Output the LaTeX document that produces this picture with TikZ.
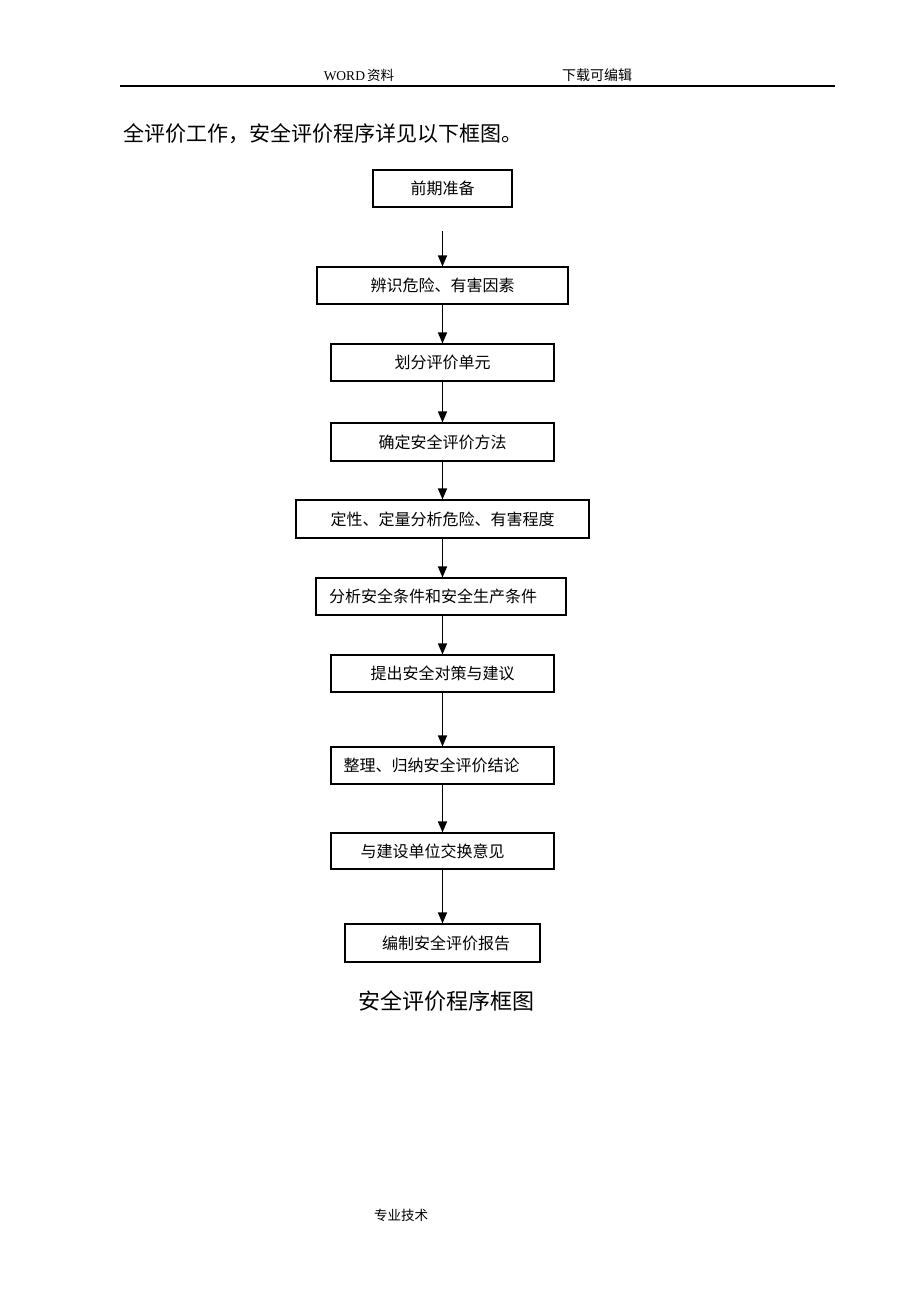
\documentclass[tikz,border=0pt]{standalone}
\usepackage{fontspec}
\setmainfont{Liberation Serif}
\newfontfamily\cjk{Noto Sans CJK SC}
\usetikzlibrary{arrows.meta}
\tikzset{
  box/.style={draw=black, line width=1.1pt, rectangle, inner sep=0pt, font=\cjk\fontsize{16}{16}\selectfont},
  flow/.style={draw=black, line width=1.6pt, -{Triangle[length=11pt,width=9pt]}},
  plain/.style={inner sep=0pt, anchor=center}
}
\begin{document}
\begin{tikzpicture}[x=1pt,y=-1pt]
\useasboundingbox (0,0) rectangle (920,1302);
\fill[white] (0,0) rectangle (920,1302);
% header
\node[plain] (h1) at (359,75) {\fontsize{13.5}{14}\selectfont WORD\,{\cjk 资料}};
\node[plain] (h2) at (597,75) {\cjk\fontsize{14}{14}\selectfont 下载可编辑};
\coordinate (hl) at (120,86);
\coordinate (hr) at (835,86);
\draw[line width=1.5pt] (hl) -- (hr);
\node[plain, anchor=west] (intro) at (123,134) {\cjk\fontsize{21}{21}\selectfont 全评价工作，安全评价程序详见以下框图。};
% boxes
\node[box, minimum width=139pt, minimum height=37pt] (b1) at (442.5,188.5) {前期准备};
\node[box, minimum width=251pt, minimum height=37pt] (b2) at (442.5,285.5) {辨识危险、有害因素};
\node[box, minimum width=223pt, minimum height=37pt] (b3) at (442.5,362.5) {划分评价单元};
\node[box, minimum width=223pt, minimum height=38pt] (b4) at (442.5,442) {确定安全评价方法};
\node[box, minimum width=293pt, minimum height=38pt] (b5) at (442.5,519) {定性、定量分析危险、有害程度};
\node[box, minimum width=250pt, minimum height=37pt] (b6) at (441,596.5) {分析安全条件和安全生产条件\kern16pt};
\node[box, minimum width=223pt, minimum height=37pt] (b7) at (442.5,673.5) {提出安全对策与建议};
\node[box, minimum width=223pt, minimum height=37pt] (b8) at (442.5,765.5) {整理、归纳安全评价结论\kern22pt};
\node[box, minimum width=223pt, minimum height=36pt] (b9) at (442.5,851) {与建设单位交换意见\kern20pt};
\node[box, minimum width=195pt, minimum height=38pt] (b10) at (442.5,943) {\kern7pt 编制安全评价报告};
% arrows
\coordinate (s1) at (442.5,231);
\draw[flow] (s1) -- (b2.north);
\draw[flow] (b2) -- (b3);
\draw[flow] (b3) -- (b4);
\draw[flow] (b4) -- (b5);
\draw[flow] (b5.south) -- (b5.south |- b6.north);
\draw[flow] (b6.south -| b7.north) -- (b7.north);
\draw[flow] (b7) -- (b8);
\draw[flow] (b8) -- (b9);
\draw[flow] (b9) -- (b10);
% caption and footer
\node[plain] (cap) at (446,1001) {\cjk\fontsize{22}{22}\selectfont 安全评价程序框图};
\node[plain] (foot) at (401,1215) {\cjk\fontsize{13.5}{14}\selectfont 专业技术};
\end{tikzpicture}
\end{document}
